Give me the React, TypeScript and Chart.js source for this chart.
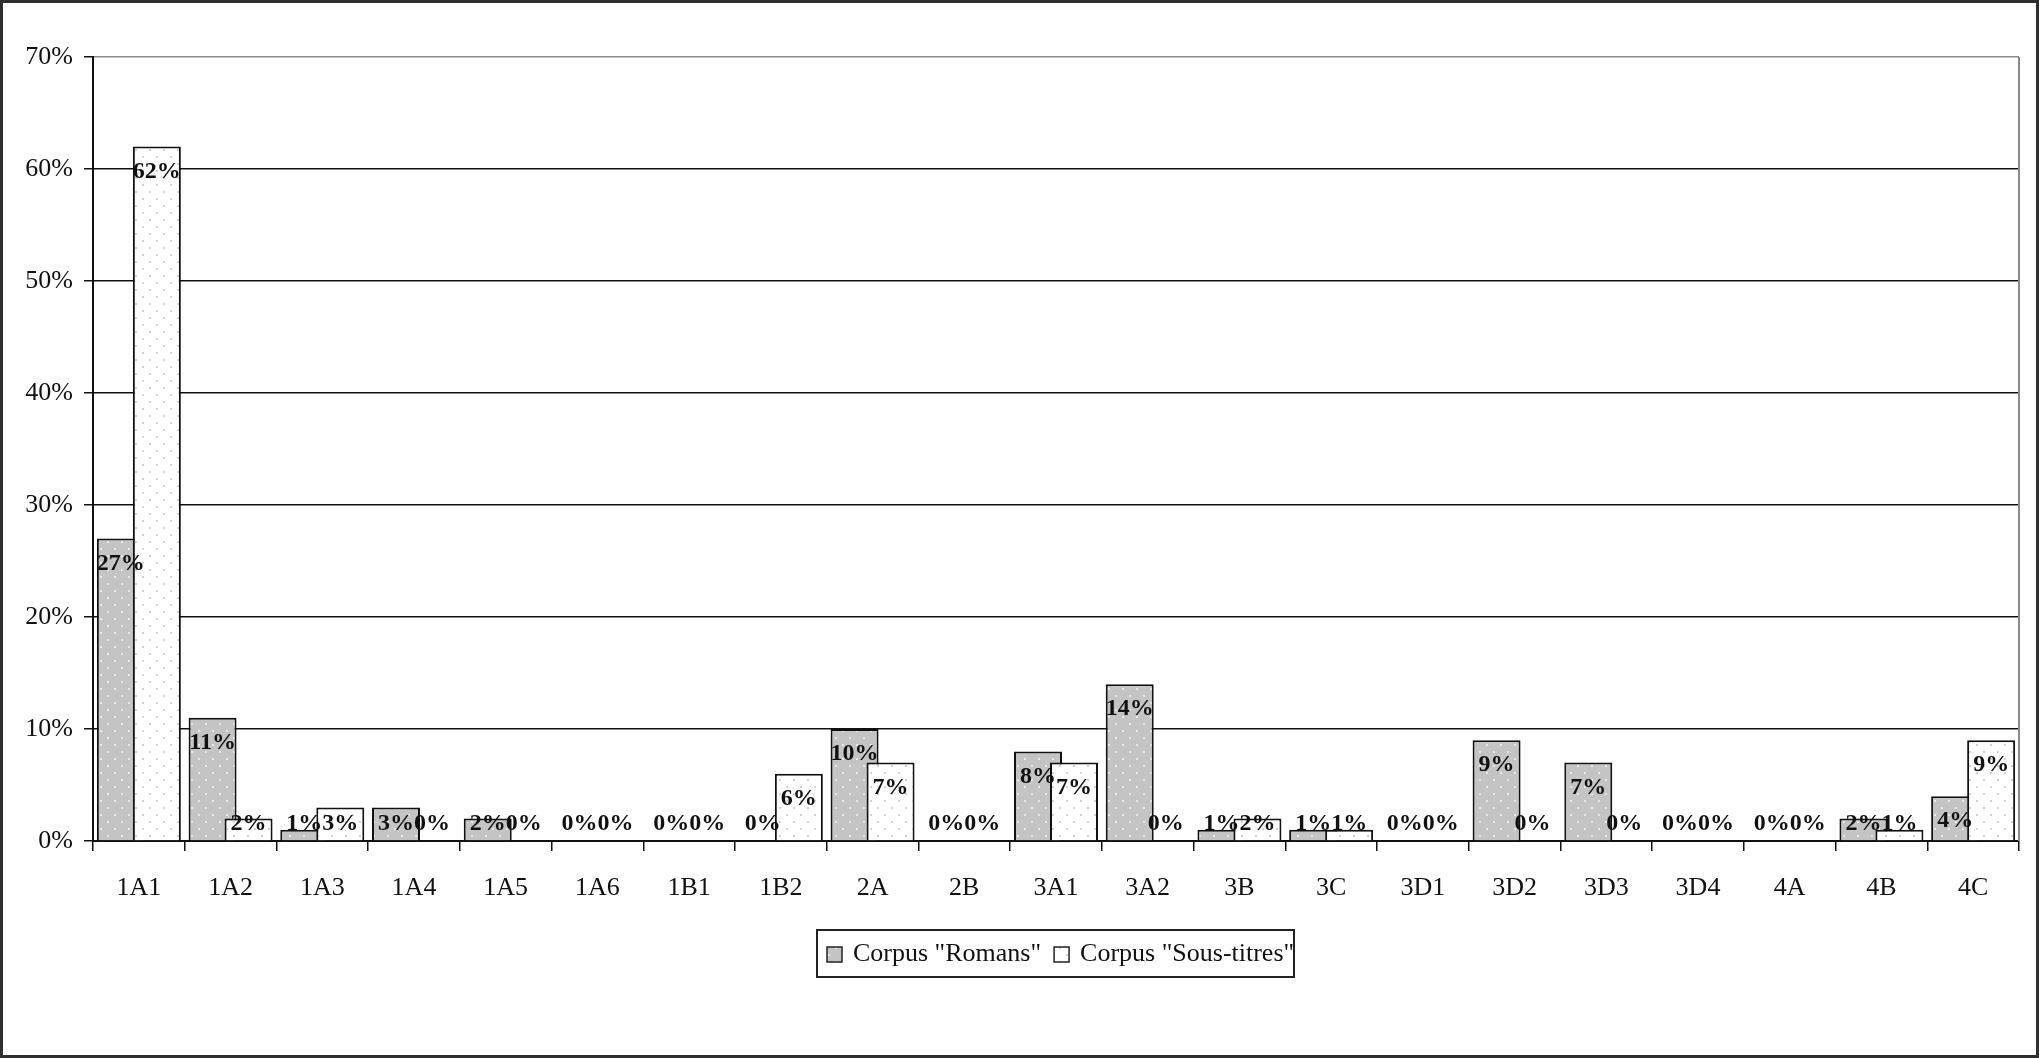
import React, { useEffect, useRef } from 'react';
import { Chart, registerables } from 'chart.js';

Chart.register(...registerables);

// ---- data ----
const categories = ['1A1', '1A2', '1A3', '1A4', '1A5', '1A6', '1B1', '1B2', '2A', '2B', '3A1', '3A2', '3B', '3C', '3D1', '3D2', '3D3', '3D4', '4A', '4B', '4C'];
const romans = [27, 11, 1, 3, 2, 0, 0, 0, 10, 0, 8, 14, 1, 1, 0, 9, 7, 0, 0, 2, 4];
const sousTitres = [62, 2, 3, 0, 0, 0, 0, 6, 7, 0, 7, 0, 2, 1, 0, 0, 0, 0, 0, 1, 9];
const seriesLabels = ['Corpus "Romans"', 'Corpus "Sous-titres"'];
const yMin = 0;
const yMax = 70;
const yStep = 10;

const W = 2039;
const H = 1058;
const FONT = "'Liberation Serif', 'Times New Roman', serif";

function makePattern(base: string, dot: string): CanvasPattern | string {
  const c = document.createElement('canvas');
  c.width = 14;
  c.height = 14;
  const g = c.getContext('2d');
  if (!g) return base;
  g.fillStyle = base;
  g.fillRect(0, 0, 14, 14);
  g.fillStyle = dot;
  g.fillRect(2, 2, 2, 2);
  g.fillRect(9, 9, 2, 2);
  const p = g.createPattern(c, 'repeat');
  return p || base;
}

export default function App() {
  const ref = useRef<HTMLCanvasElement | null>(null);

  useEffect(() => {
    document.body.style.margin = '0';
    const canvas = ref.current;
    if (!canvas) return;

    const romansFill = makePattern('#c4c4c4', '#e8e8e8');
    const stFill = makePattern('#ffffff', '#d2d2d2');
    const fills = [romansFill, stFill];

    const framePlugin = {
      id: 'frame',
      beforeDraw(chart: any) {
        const c = chart.ctx;
        c.save();
        c.fillStyle = '#ffffff';
        c.fillRect(0, 0, chart.width, chart.height);
        c.restore();
      },
      afterDraw(chart: any) {
        const c = chart.ctx;
        const a = chart.chartArea;
        c.save();
        // plot area right border
        c.strokeStyle = '#8a8a8a';
        c.lineWidth = 2;
        c.beginPath();
        c.moveTo(a.right, a.top);
        c.lineTo(a.right, a.bottom);
        c.stroke();
        // outer border
        c.strokeStyle = '#2e2e2e';
        c.lineWidth = 3;
        c.strokeRect(1.5, 1.5, chart.width - 3, chart.height - 3);

        // legend
        const lx = 817, ly = 930, lw = 477, lh = 47;
        c.strokeStyle = '#222';
        c.lineWidth = 2;
        c.strokeRect(lx, ly, lw, lh);
        c.font = `26px ${FONT}`;
        c.textBaseline = 'middle';
        c.textAlign = 'left';
        let x = lx + 10;
        const cy = ly + lh / 2 + 1;
        chart.data.datasets.forEach((ds: any, i: number) => {
          c.fillStyle = fills[i];
          c.fillRect(x, cy - 7.5, 15, 15);
          c.strokeStyle = '#222';
          c.lineWidth = 1.5;
          c.strokeRect(x, cy - 7.5, 15, 15);
          c.fillStyle = '#111';
          c.fillText(ds.label, x + 26, cy);
          x += 26 + c.measureText(ds.label).width + 13;
        });
        c.restore();
      },
    };

    const orderAndLabels = {
      id: 'orderAndLabels',
      beforeDatasetDraw(chart: any, args: any) {
        if (args.index === 1) return false;
        return true;
      },
      afterDatasetsDraw(chart: any) {
        const c = chart.ctx;
        c.save();
        chart.getDatasetMeta(1).controller.draw();
        c.restore();

        const base = chart.scales.y.getPixelForValue(0);
        c.save();
        c.font = `bold 24px ${FONT}`;
        c.fillStyle = '#111';
        c.textAlign = 'center';
        c.textBaseline = 'middle';
        [0, 1].forEach((di) => {
          const meta = chart.getDatasetMeta(di);
          const data = chart.data.datasets[di].data as number[];
          meta.data.forEach((el: any, i: number) => {
            const y = Math.min(el.y + 25, base - 17);
            c.fillText(`${data[i]}%`, el.x, y);
          });
        });
        c.restore();
      },
    };

    const chart = new Chart(canvas, {
      type: 'bar',
      data: {
        labels: categories,
        datasets: [
          {
            label: seriesLabels[0],
            data: romans,
            backgroundColor: romansFill as any,
            borderColor: '#111',
            borderWidth: 2,
            categoryPercentage: 0.785,
            barPercentage: 1.333,
          },
          {
            label: seriesLabels[1],
            data: sousTitres,
            backgroundColor: stFill as any,
            borderColor: '#111',
            borderWidth: 2,
            categoryPercentage: 0.785,
            barPercentage: 1.333,
          },
        ],
      },
      options: {
        responsive: false,
        animation: false,
        devicePixelRatio: 1,
        layout: { padding: { left: 0, top: 57, right: 20, bottom: 0 } },
        plugins: {
          legend: { display: false },
          tooltip: { enabled: false },
        },
        scales: {
          x: {
            offset: true,
            grid: {
              offset: true,
              drawOnChartArea: false,
              drawTicks: true,
              tickLength: 10,
              color: '#111',
              lineWidth: 1.5,
            },
            border: { display: true, color: '#111', width: 2 },
            ticks: {
              color: '#111',
              font: { family: FONT, size: 26 },
              padding: 22,
              maxRotation: 0,
              autoSkip: false,
            },
            afterFit: (s: any) => {
              s.height = 217;
            },
          },
          y: {
            min: yMin,
            max: yMax,
            grid: {
              color: (ctx: any) => (ctx.tick && ctx.tick.value === yMax ? '#8a8a8a' : '#111'),
              tickColor: '#111',
              lineWidth: 1.5,
              tickLength: 9,
            },
            border: { display: true, color: '#111', width: 2 },
            ticks: {
              stepSize: yStep,
              color: '#111',
              font: { family: FONT, size: 26 },
              padding: 11,
              callback: (v: any) => `${v}%`,
            },
            afterFit: (s: any) => {
              s.width = 93;
            },
          },
        },
      },
      plugins: [framePlugin, orderAndLabels],
    });

    return () => chart.destroy();
  }, []);

  return (
    <div style={{ position: 'fixed', left: 0, top: 0, width: W, height: H }}>
      <canvas ref={ref} width={W} height={H} style={{ display: 'block' }} />
    </div>
  );
}
